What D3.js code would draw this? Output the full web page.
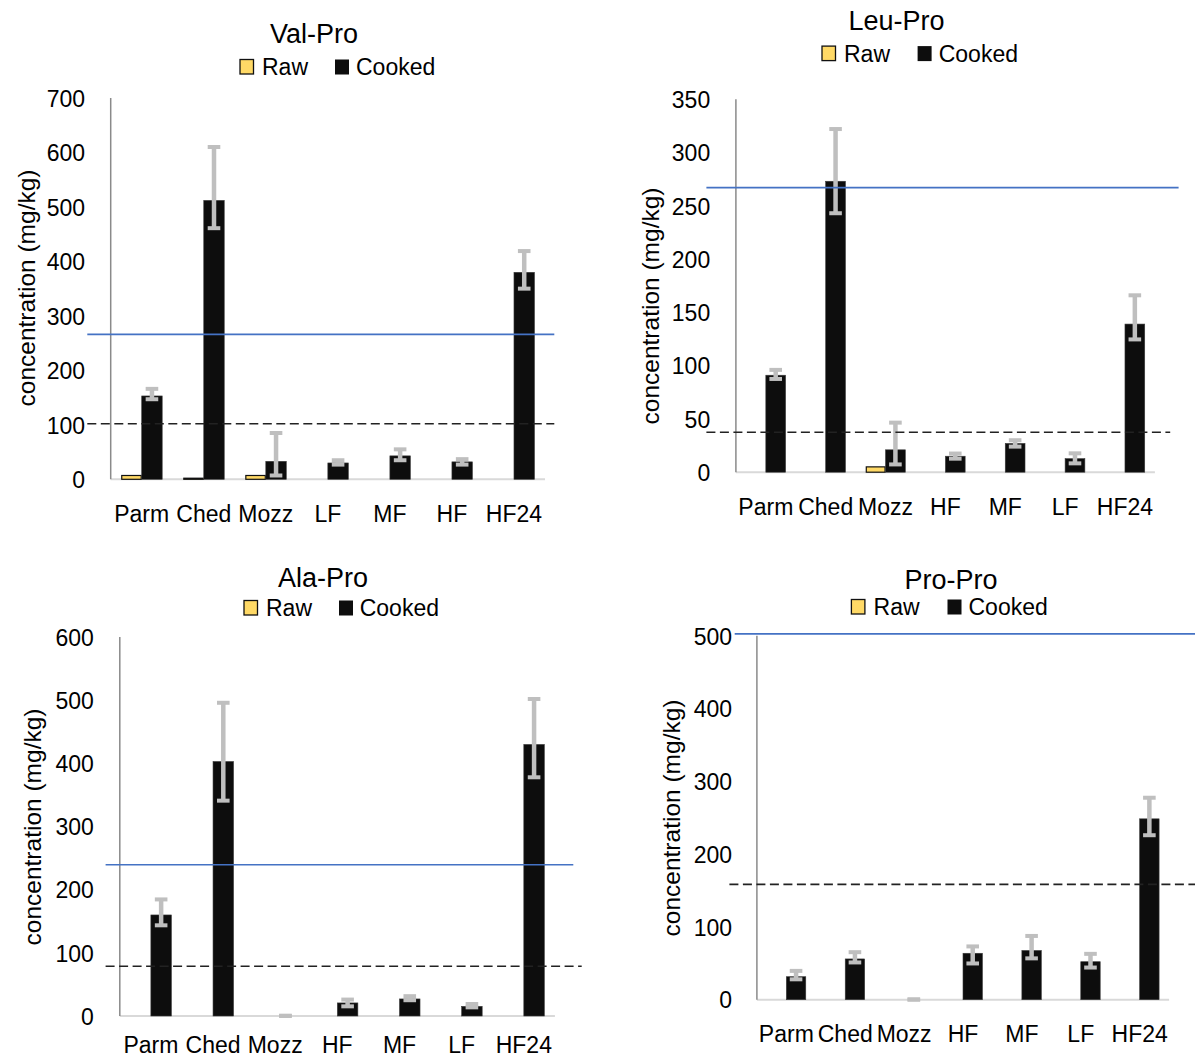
<!DOCTYPE html>
<html>
<head>
<meta charset="utf-8">
<script src="https://cdn.jsdelivr.net/npm/d3@7"></script>
<style>
  html, body { margin: 0; padding: 0; background: #fff; }
  svg { display: block; font-family: "Liberation Sans", Arial, sans-serif; }
</style>
</head>
<body>
<svg id="chart" width="1195" height="1059"></svg>
<script>
// ---------------- DATA ----------------
const panelTitles = ["Val-Pro", "Leu-Pro", "Ala-Pro", "Pro-Pro"];
const seriesNames = ["Raw", "Cooked"];
const yAxisTitle = "concentration (mg/kg)";

const categoriesValPro = ["Parm", "Ched", "Mozz", "LF", "MF", "HF", "HF24"];
const categoriesLeuPro = ["Parm", "Ched", "Mozz", "HF", "MF", "LF", "HF24"];
const categoriesAlaPro = ["Parm", "Ched", "Mozz", "HF", "MF", "LF", "HF24"];
const categoriesProPro = ["Parm", "Ched", "Mozz", "HF", "MF", "LF", "HF24"];

const rawValPro    = [7, 2, 7, 0, 0, 0, 0];
const cookedValPro = [153, 512, 33, 30, 43, 32, 380];
const errPlusValPro  = [13, 98, 52, 5, 12, 5, 39];
const errMinusValPro = [6, 51, 26, 3, 8, 5, 30];

const rawLeuPro    = [0, 0, 5, 0, 0, 0, 0];
const cookedLeuPro = [91, 273, 21, 15, 27, 12.7, 139];
const errPlusLeuPro  = [5, 49, 25.5, 2.5, 3, 5, 27];
const errMinusLeuPro = [3.5, 30, 13.7, 2.3, 3, 4.4, 14.4];

const rawAlaPro    = [0, 0, 0, 0, 0, 0, 0];
const cookedAlaPro = [160, 403, 0, 20.7, 27, 15.3, 430];
const errPlusAlaPro  = [24.6, 93, 0.5, 5.3, 4.4, 3.7, 72];
const errMinusAlaPro = [16.4, 62, 0, 5.4, 2, 1.6, 52];

const rawProPro    = [0, 0, 0, 0, 0, 0, 0];
const cookedProPro = [31.6, 56, 0, 63.8, 67.6, 52.2, 248.5];
const errPlusProPro  = [8, 9.3, 0.5, 9.4, 20, 10.8, 29];
const errMinusProPro = [3.6, 4.8, 0, 14, 10.8, 8, 22.5];

// reference lines (solid blue and dashed) per panel
const blueLineValues   = [266, 267, 239.5, 502.7];
const dashedLineValues = [102, 37.5, 78.7, 158.5];

const yMaxValues = [700, 350, 600, 500];
const tickValPro = [0, 100, 200, 300, 400, 500, 600, 700];
const tickLeuPro = [0, 50, 100, 150, 200, 250, 300, 350];
const tickAlaPro = [0, 100, 200, 300, 400, 500, 600];
const tickProPro = [0, 100, 200, 300, 400, 500];

// ---------------- LAYOUT (positions/styles only) ----------------
const layouts = [
  { x0: 110.7, x1: 545,    y0: 479.3,  yTop: 98,    tickRight: 85,
    blueX: [87.3, 554.3], dashX: [87.3, 554.3],
    title: [314, 43], leg: { raw: 240, rawT: 262, ck: 335, ckT: 356, base: 75 },
    yLab: [26, 288], xLabBase: 521.7 },
  { x0: 735.9, x1: 1154.9, y0: 472.2,  yTop: 99.2,  tickRight: 710.2,
    blueX: [706.4, 1178.6], dashX: [706.4, 1170.2],
    title: [896.6, 30], leg: { raw: 822, rawT: 844, ck: 917.6, ckT: 938.7, base: 61.6 },
    yLab: [650, 306], xLabBase: 514.5 },
  { x0: 119.8, x1: 554.9,  y0: 1016,   yTop: 637.1, tickRight: 93.8,
    blueX: [105.6, 573.3], dashX: [105.6, 581.7],
    title: [323, 587], leg: { raw: 244, rawT: 266, ck: 339, ckT: 359.7, base: 616 },
    yLab: [32.5, 827], xLabBase: 1053 },
  { x0: 756.9, x1: 1169.1, y0: 999.7,  yTop: 635.8, tickRight: 732,
    blueX: [734.7, 1195], dashX: [729.4, 1195],
    title: [951, 589], leg: { raw: 851.4, rawT: 873.6, ck: 947.5, ckT: 968.5, base: 615 },
    yLab: [671, 818], xLabBase: 1042 }
];

const panels = [
  { cats: categoriesValPro, raw: rawValPro, cooked: cookedValPro, ep: errPlusValPro, em: errMinusValPro, ticks: tickValPro },
  { cats: categoriesLeuPro, raw: rawLeuPro, cooked: cookedLeuPro, ep: errPlusLeuPro, em: errMinusLeuPro, ticks: tickLeuPro },
  { cats: categoriesAlaPro, raw: rawAlaPro, cooked: cookedAlaPro, ep: errPlusAlaPro, em: errMinusAlaPro, ticks: tickAlaPro },
  { cats: categoriesProPro, raw: rawProPro, cooked: cookedProPro, ep: errPlusProPro, em: errMinusProPro, ticks: tickProPro }
];

const COLORS = { raw: "#FFD966", cooked: "#0d0d0d", err: "#BFBFBF", blue: "#4472C4", dash: "#222", yaxis: "#8a8a8a", base: "#d9d9d9" };

const svg = d3.select("#chart");

panels.forEach((p, i) => {
  const L = layouts[i];
  const g = svg.append("g");

  const x = d3.scaleBand().domain(p.cats).range([L.x0, L.x1]).paddingInner(0.34).paddingOuter(0.17);
  const xs = d3.scaleBand().domain(seriesNames).range([0, x.bandwidth()]);
  const y = d3.scaleLinear().domain([0, yMaxValues[i]]).range([L.y0, L.yTop]);

  // tick labels via d3 axis
  const yAxis = g.append("g")
    .attr("transform", `translate(${L.tickRight},0)`)
    .call(d3.axisLeft(y).tickValues(p.ticks).tickSize(0).tickPadding(0).tickFormat(d3.format("d")));
  yAxis.select(".domain").remove();
  yAxis.selectAll("text").attr("font-size", 23).attr("fill", "#000")
    .attr("font-family", '"Liberation Sans", Arial, sans-serif').attr("dy", "0.36em");

  // baseline and y axis line
  g.append("line").attr("x1", L.x0).attr("x2", L.x1).attr("y1", y(0)).attr("y2", y(0))
    .attr("stroke", COLORS.base).attr("stroke-width", 2);
  g.append("line").attr("x1", L.x0).attr("x2", L.x0).attr("y1", y(yMaxValues[i])).attr("y2", y(0))
    .attr("stroke", COLORS.yaxis).attr("stroke-width", 1.5);

  // bars
  const rows = p.cats.map((c, k) => ({ c, raw: p.raw[k], cooked: p.cooked[k], ep: p.ep[k], em: p.em[k] }));

  g.selectAll(".raw").data(rows.filter(d => d.raw > 0)).join("rect")
    .attr("x", d => x(d.c) + xs("Raw") + 0.5)
    .attr("width", xs.bandwidth() - 1)
    .attr("y", d => y(d.raw))
    .attr("height", d => Math.max(0.5, y(0) - y(d.raw)))
    .attr("fill", COLORS.raw).attr("stroke", "#111").attr("stroke-width", 1.2);

  g.selectAll(".cooked").data(rows.filter(d => d.cooked > 0)).join("rect")
    .attr("x", d => x(d.c) + xs("Cooked"))
    .attr("width", xs.bandwidth())
    .attr("y", d => y(d.cooked))
    .attr("height", d => y(0) - y(d.cooked))
    .attr("fill", COLORS.cooked).attr("stroke", "#3a3a3a").attr("stroke-width", 0.6);

  // error bars
  const cx = d => x(d.c) + xs("Cooked") + xs.bandwidth() / 2;
  const eg = g.append("g");
  eg.selectAll(".ev").data(rows).join("line")
    .attr("x1", cx).attr("x2", cx)
    .attr("y1", d => y(d.cooked + d.ep)).attr("y2", d => y(d.cooked - d.em))
    .attr("stroke", COLORS.err).attr("stroke-width", 4.5);
  ["top", "bot"].forEach(side => {
    eg.selectAll(".cap-" + side).data(rows).join("line")
      .attr("x1", d => cx(d) - 6.3).attr("x2", d => cx(d) + 6.3)
      .attr("y1", d => y(side === "top" ? d.cooked + d.ep : d.cooked - d.em))
      .attr("y2", d => y(side === "top" ? d.cooked + d.ep : d.cooked - d.em))
      .attr("stroke", COLORS.err).attr("stroke-width", 4);
  });

  // reference lines
  g.append("line").attr("x1", L.blueX[0]).attr("x2", L.blueX[1])
    .attr("y1", y(blueLineValues[i])).attr("y2", y(blueLineValues[i]))
    .attr("stroke", COLORS.blue).attr("stroke-width", 1.6);
  g.append("line").attr("x1", L.dashX[0]).attr("x2", L.dashX[1])
    .attr("y1", y(dashedLineValues[i])).attr("y2", y(dashedLineValues[i]))
    .attr("stroke", COLORS.dash).attr("stroke-width", 1.6).attr("stroke-dasharray", "9,4.5");

  // x category labels
  g.selectAll(".xl").data(p.cats).join("text")
    .attr("x", d => x(d) + x.bandwidth() / 2)
    .attr("y", L.xLabBase)
    .attr("text-anchor", "middle").attr("font-size", 23).attr("fill", "#000")
    .text(d => d);

  // title
  g.append("text").attr("x", L.title[0]).attr("y", L.title[1])
    .attr("text-anchor", "middle").attr("font-size", 27).attr("fill", "#000")
    .text(panelTitles[i]);

  // legend
  g.append("rect").attr("x", L.leg.raw).attr("y", L.leg.base - 15.5).attr("width", 13.5).attr("height", 14.5)
    .attr("fill", COLORS.raw).attr("stroke", "#111").attr("stroke-width", 1.3);
  g.append("text").attr("x", L.leg.rawT).attr("y", L.leg.base).attr("font-size", 23).text(seriesNames[0]);
  g.append("rect").attr("x", L.leg.ck).attr("y", L.leg.base - 15.5).attr("width", 14).attr("height", 15)
    .attr("fill", COLORS.cooked);
  g.append("text").attr("x", L.leg.ckT).attr("y", L.leg.base).attr("font-size", 23).text(seriesNames[1]);

  // y axis title
  g.append("text")
    .attr("transform", `translate(${L.yLab[0]},${L.yLab[1]}) rotate(-90)`)
    .attr("text-anchor", "middle").attr("dominant-baseline", "central")
    .attr("font-size", 24.5).attr("fill", "#000")
    .text(yAxisTitle);
});
</script>
</body>
</html>
